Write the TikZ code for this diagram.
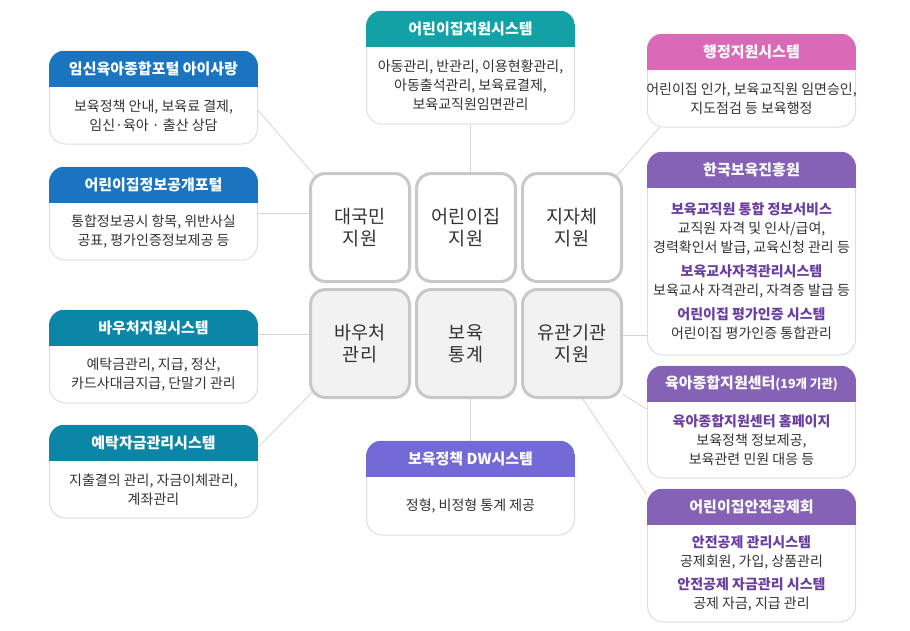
\documentclass[tikz,border=0pt]{standalone}
\usepackage{fontspec}
\setmainfont{Noto Sans CJK KR}
\usetikzlibrary{positioning,backgrounds}
\definecolor{PortalBlue}{HTML}{1A74BF}
\definecolor{VoucherTeal}{HTML}{0B86A6}
\definecolor{CareTeal}{HTML}{12A2A6}
\definecolor{AdminPink}{HTML}{DA6AB8}
\definecolor{KcPurple}{HTML}{8562B5}
\definecolor{DwViolet}{HTML}{736AD7}
\definecolor{ItemPurple}{HTML}{6B3FA0}
\definecolor{TextGray}{HTML}{333333}
\definecolor{FrameGray}{HTML}{DDDDDD}
\definecolor{HubGray}{HTML}{C8C8C8}
\definecolor{HubFill}{HTML}{F2F2F2}
\definecolor{LinkGray}{HTML}{D4D4D4}

\newcommand{\sysitem}[1]{{\bfseries\color{ItemPurple}#1}}
% name, centre, height, header colour, title, body
\newcommand{\sysbox}[6]{%
  \node[sysframe, minimum height=#3] (#1) at (#2) {};
  \begin{scope}
    \clip[rounded corners=16pt] (#1.south west) rectangle (#1.north east);
    \fill[#4] (#1.north west) rectangle ([yshift=-36pt]#1.north east);
  \end{scope}
  \node[systitle] (#1-title) at ([yshift=-18pt]#1.north) {#5};
  \node[sysbody] (#1-body) at ([yshift=-18pt]#1.center) {#6};
}

\begin{document}
\begin{tikzpicture}[
    x=1pt, y=-1pt,
    hubbox/.style={
      draw=HubGray,
      line width=3pt,
      fill=white,
      rounded corners=15pt,
      minimum width=99pt,
      minimum height=108pt,
      align=center,
      text=TextGray,
      font=\fontsize{18.5}{22}\selectfont
    },
    hubgray/.style={hubbox, fill=HubFill},
    sysframe/.style={
      draw=FrameGray,
      line width=1pt,
      fill=white,
      rounded corners=16pt,
      minimum width=208pt
    },
    systitle/.style={
      text=white,
      font=\fontsize{15}{17}\selectfont\bfseries
    },
    sysbody/.style={
      align=center,
      text=TextGray,
      font=\fontsize{14}{19}\selectfont
    },
    link/.style={draw=LinkGray, line width=0.8pt}
  ]
  \useasboundingbox (0,0) rectangle (910,630);

  % 가운데 업무 영역
  \node[hubbox] (people) at (360,227.5) {대국민\\지원};
  \node[hubbox, right=4pt of people] (daycare) {어린이집\\지원};
  \node[hubbox, right=4pt of daycare] (region) {지자체\\지원};
  \node[hubgray, below=5pt of people] (voucher) {바우처\\관리};
  \node[hubgray, below=5pt of daycare] (stats) {보육\\통계};
  \node[hubgray, below=5pt of region] (agency) {유관기관\\지원};

  % 왼쪽 시스템
  \sysbox{portal}{153.5,97.5}{93pt}{PortalBlue}{임신육아종합포털 아이사랑}{보육정책 안내, 보육료 결제,\\임신·육아 · 출산 상담}
  \sysbox{openinfo}{153.5,213.5}{93pt}{PortalBlue}{어린이집정보공개포털}{통합정보공시 항목, 위반사실\\공표, 평가인증정보제공 등}
  \sysbox{vsys}{153.5,356.5}{93pt}{VoucherTeal}{바우처지원시스템}{예탁금관리, 지급, 정산,\\카드사대금지급, 단말기 관리}
  \sysbox{deposit}{153.5,471.5}{93pt}{VoucherTeal}{예탁자금관리시스템}{지출결의 관리, 자금이체관리,\\계좌관리}

  % 위, 아래
  \sysbox{cis}{470.5,67.5}{113pt}{CareTeal}{어린이집지원시스템}{아동관리, 반관리, 이용현황관리,\\아동출석관리, 보육료결제,\\보육교직원임면관리}
  \sysbox{dw}{470.5,488}{94pt}{DwViolet}{보육정책 DW시스템}{정형, 비정형 통계 제공}

  % 오른쪽 기관
  \sysbox{admin}{751.5,80.5}{93pt}{AdminPink}{행정지원시스템}{어린이집 인가, 보육교직원 임면승인,\\지도점검 등 보육행정}
  \sysbox{kcpi}{751.5,253.5}{203pt}{KcPurple}{한국보육진흥원}{\sysitem{보육교직원 통합 정보서비스}\\교직원 자격 및 인사/급여,\\경력확인서 발급, 교육신청 관리 등\\[5pt]\sysitem{보육교사자격관리시스템}\\보육교사 자격관리, 자격증 발급 등\\[5pt]\sysitem{어린이집 평가인증 시스템}\\어린이집 평가인증 통합관리}
  \sysbox{hub}{751.5,422}{112pt}{KcPurple}{육아종합지원센터{\fontsize{12.5}{14}\selectfont(19개 기관)}}{\sysitem{육아종합지원센터 홈페이지}\\보육정책 정보제공,\\보육관련 민원 대응 등}
  \sysbox{safety}{751.5,555.5}{133pt}{KcPurple}{어린이집안전공제회}{\sysitem{안전공제 관리시스템}\\공제회원, 가입, 상품관리\\[4pt]\sysitem{안전공제 자금관리 시스템}\\공제 자금, 지급 관리}

  % 연결선은 상자 뒤로
  \begin{scope}[on background layer]
    \draw[link] (portal.-7) -- (people.center);
    \draw[link] (openinfo.east) -- (openinfo.east -| people.west);
    \draw[link] (vsys.12) -- (vsys.12 -| voucher.west);
    \draw[link] (deposit.13) -- (voucher.center);
    \draw[link] (cis.south) -- (cis.south |- daycare.north);
    \draw[link] (dw.north) -- (dw.north |- stats.south);
    \draw[link] (admin.207) -- (region.center);
    \draw[link] (kcpi.218) -- (kcpi.218 -| agency.east);
    \draw[link] (hub.173) -- (agency.-45);
    \draw[link] (safety.150) -- (agency.-79);
  \end{scope}
\end{tikzpicture}
\end{document}
